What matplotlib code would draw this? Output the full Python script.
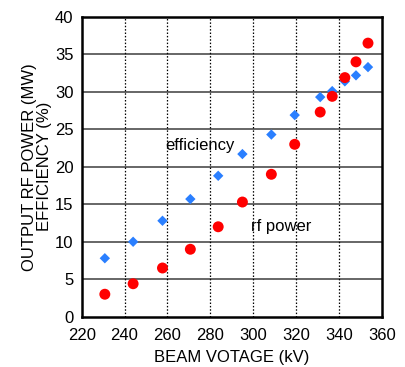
import matplotlib.pyplot as plt
import numpy as np

plt.rcParams['font.family'] = ['Liberation Sans', 'DejaVu Sans']

# beam voltage (kV)
voltage = [230.8, 244.0, 257.7, 270.7, 283.7, 295.0, 308.5, 319.4, 331.3, 336.9, 342.8, 348.0, 353.6]
# efficiency (%)
efficiency = [7.8, 10.0, 12.8, 15.7, 18.8, 21.7, 24.3, 26.9, 29.3, 30.1, 31.4, 32.2, 33.3]
# output rf power (MW)
rf_power = [3.0, 4.4, 6.5, 9.0, 12.0, 15.3, 19.0, 23.0, 27.3, 29.4, 31.9, 34.0, 36.5]

xticks = np.arange(220, 361, 20)
yticks = np.arange(0, 41, 5)

fig = plt.figure(figsize=(4.05, 3.67), dpi=100)
ax = fig.add_axes([0.2017, 0.137, 0.7408, 0.817])

# grid: solid horizontal, dotted vertical
for y in yticks[1:-1]:
    ax.axhline(y, color='#4d4d4d', lw=1.2, zorder=0)
for x in xticks[1:-1]:
    ax.axvline(x, color='black', lw=0.9, ls=(0, (1.2, 1.5)), zorder=0)

ax.scatter(voltage, efficiency, marker='D', s=28, color='#2a7fff', edgecolors='none', zorder=3)
ax.scatter(voltage, rf_power, marker='o', s=62, color='#ff0000', edgecolors='none', zorder=3)

ax.text(275, 22.9, 'efficiency', fontsize=12, ha='center', va='center')
ax.text(299, 12.0, 'rf power', fontsize=12, ha='left', va='center')

ax.set_xlim(220, 360)
ax.set_ylim(0, 40)
ax.set_xticks(xticks)
ax.set_yticks(yticks)
ax.tick_params(length=0, labelsize=12)
ax.tick_params(axis='x', pad=8)
ax.tick_params(axis='y', pad=6)
for s in ax.spines.values():
    s.set_linewidth(1.8)

ax.set_xlabel('BEAM VOTAGE (kV)', fontsize=12, labelpad=5)
ax.set_ylabel('OUTPUT RF POWER (MW)\nEFFICIENCY (%)', fontsize=12, labelpad=2, linespacing=1.0)

fig.savefig('out.png', dpi=100)
